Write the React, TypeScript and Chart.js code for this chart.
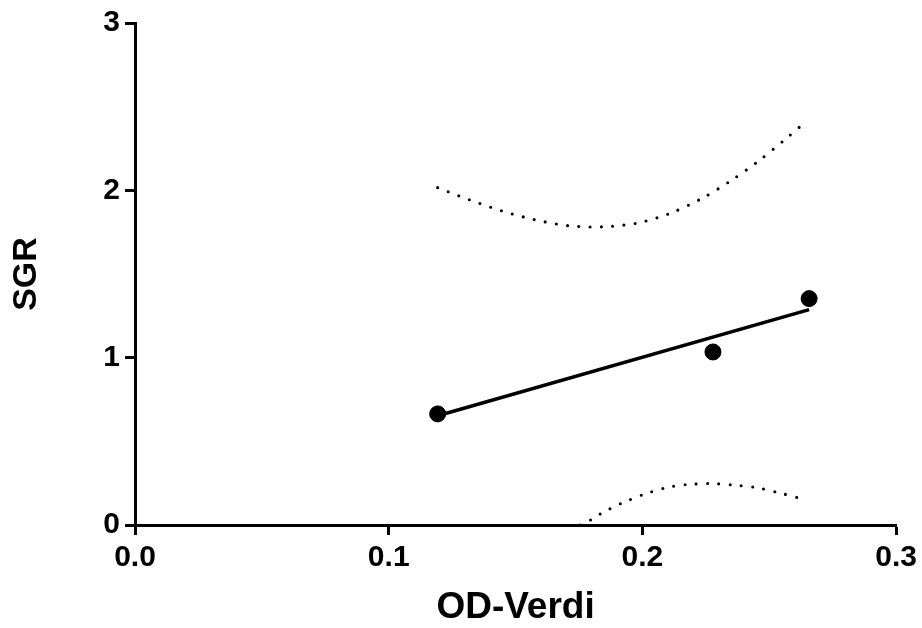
import React, { useEffect, useRef } from "react";
import { Chart, registerables } from "chart.js";

Chart.register(...registerables);

// Measured data points
const pointsX = [0.1193, 0.2278, 0.2657];
const pointsY = [0.664, 1.034, 1.353];

// Fitted regression line (end points)
const fitX = [0.1193, 0.2657];
const fitY = [0.653, 1.287];

// Upper confidence band
const upperX = [0.1193, 0.1317, 0.1446, 0.1577, 0.171, 0.1844, 0.1978, 0.2106, 0.2231, 0.2345, 0.2455, 0.256, 0.2628];
const upperY = [2.016, 1.944, 1.877, 1.824, 1.788, 1.782, 1.804, 1.861, 1.949, 2.054, 2.172, 2.301, 2.39];

// Lower confidence band
const lowerX = [0.1755, 0.1801, 0.1839, 0.1919, 0.2004, 0.2091, 0.2178, 0.2268, 0.2358, 0.2447, 0.2535, 0.2623];
const lowerY = [0.0, 0.034, 0.07, 0.131, 0.182, 0.222, 0.242, 0.248, 0.239, 0.224, 0.194, 0.159];

const xTicks = [0, 0.1, 0.2, 0.3];
const yTicks = [0, 1, 2, 3];

const FONT = '"Liberation Sans", Arial, Helvetica, sans-serif';

const zip = (xs: number[], ys: number[]) => xs.map((x, i) => ({ x, y: ys[i] }));

export default function App() {
  const ref = useRef<HTMLCanvasElement | null>(null);

  useEffect(() => {
    if (!ref.current) return;
    const dotted = {
      borderColor: "#000",
      borderWidth: 3.1,
      borderDash: [0, 11.3],
      borderCapStyle: "round" as const,
      pointRadius: 0,
      showLine: true,
      fill: false,
      tension: 0.3,
    };
    const chart = new Chart(ref.current, {
      type: "scatter",
      data: {
        datasets: [
          {
            label: "Data",
            data: zip(pointsX, pointsY),
            backgroundColor: "#000",
            borderColor: "#000",
            pointRadius: 8,
            pointHoverRadius: 8,
            showLine: false,
          },
          {
            label: "Fit",
            data: zip(fitX, fitY),
            borderColor: "#000",
            borderWidth: 3.5,
            pointRadius: 0,
            showLine: true,
            fill: false,
          },
          { label: "Upper", data: zip(upperX, upperY), ...dotted },
          { label: "Lower", data: zip(lowerX, lowerY), ...dotted },
        ],
      },
      options: {
        responsive: false,
        animation: false,
        events: [],
        layout: { padding: { top: 20, right: 24, left: 0, bottom: 0 } },
        plugins: { legend: { display: false }, tooltip: { enabled: false } },
        scales: {
          x: {
            type: "linear",
            min: 0,
            max: 0.3,
            afterFit: (s: any) => {
              s.height = 103;
            },
            afterBuildTicks: (s: any) => {
              s.ticks = xTicks.map((v) => ({ value: v }));
            },
            ticks: {
              color: "#000",
              padding: 5,
              maxRotation: 0,
              autoSkip: false,
              font: { family: FONT, size: 30, weight: "bold" },
              callback: (v: any) => Number(v).toFixed(1),
            },
            grid: {
              display: true,
              drawOnChartArea: false,
              drawTicks: true,
              tickLength: 10,
              tickWidth: 3,
              tickColor: "#000",
            },
            border: { display: true, color: "#000", width: 3 },
            title: {
              display: true,
              text: "OD-Verdi",
              color: "#000",
              padding: { top: 0, bottom: 0 },
              font: { family: FONT, size: 37, weight: "bold", lineHeight: 1.1 },
            },
          },
          y: {
            type: "linear",
            min: 0,
            max: 3,
            afterFit: (s: any) => {
              s.width = 135;
            },
            afterBuildTicks: (s: any) => {
              s.ticks = yTicks.map((v) => ({ value: v }));
            },
            ticks: {
              color: "#000",
              padding: 5,
              autoSkip: false,
              font: { family: FONT, size: 30, weight: "bold" },
              callback: (v: any) => String(Math.round(Number(v))),
            },
            grid: {
              display: true,
              drawOnChartArea: false,
              drawTicks: true,
              tickLength: 10,
              tickWidth: 3,
              tickColor: "#000",
            },
            border: { display: true, color: "#000", width: 3 },
            title: {
              display: true,
              text: "SGR",
              color: "#000",
              padding: { top: 6, bottom: 0 },
              font: { family: FONT, size: 34, weight: "bold", lineHeight: 1.2 },
            },
          },
        },
      },
    } as any);
    return () => chart.destroy();
  }, []);

  return (
    <div style={{ position: "absolute", left: 0, top: 0, width: 922, height: 628, background: "#fff" }}>
      <canvas ref={ref} width={922} height={628} style={{ display: "block" }} />
    </div>
  );
}
